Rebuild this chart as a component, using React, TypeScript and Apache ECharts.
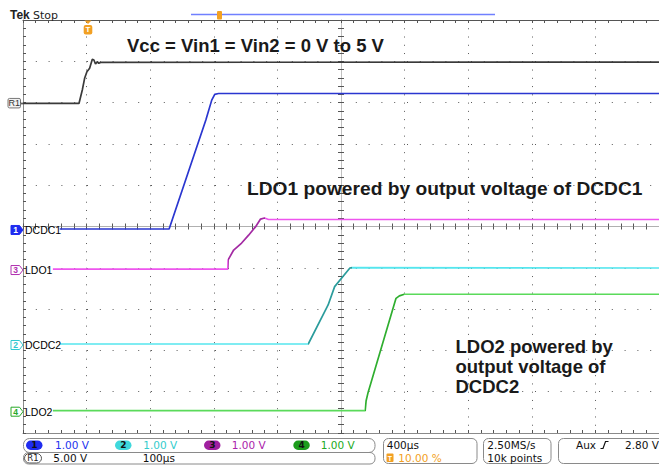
import React, { useEffect, useRef } from "react";
import * as echarts from "echarts";

const W = 659;
const H = 466;
const GRID_LEFT = 23;
const GRID_TOP = 20;
const GRID_W = 640;
const GRID_H = 413;
const X_DIVS = 10;
const Y_DIVS = 10;
const TIME_PER_DIV = 400; // µs
const TRIGGER_DIV = 1; // trigger at 10 %

// Reference R1 (Vcc), 5 V/div
const R1_T = [-400, -48, -27, -12.5, 2, 19, 36, 46, 56, 67, 77, 92, 3600];
const R1_V = [0, 0, 1.63, 3.04, 3.84, 4.25, 5.34, 5.26, 4.77, 5.05, 4.86, 4.98, 5.0];
// CH1 DCDC1, 1 V/div
const CH1_T = [-169, 519, 750, 787, 806, 830, 3600];
const CH1_V = [0, 0, 2.64, 3.12, 3.26, 3.28, 3.28];
// CH3 LDO1
const CH3_T = [-212, 888, 890, 925, 975, 1019, 1062, 1094, 1119, 1144, 3600];
const CH3_V = [0, 0, 0.22, 0.46, 0.63, 0.82, 1.02, 1.21, 1.235, 1.2, 1.2];
// CH2 DCDC2
const CH2_T = [-169, 1394, 1519, 1560, 1656, 1670, 3600];
const CH2_V = [0, 0, 0.945, 1.39, 1.84, 1.85, 1.84];
// CH4 LDO2
const CH4_T = [-212, 1752, 1758, 1769, 1946, 1967, 1998, 3600];
const CH4_V = [0, 0, 0.24, 0.42, 2.72, 2.78, 2.82, 2.82];

const CH_LABELS = ["R1", "DCDC1", "LDO1", "DCDC2", "LDO2"];
const CH_NUM = ["R1", "1", "3", "2", "4"];
const CH_OFFSETS = [2.98, -0.06, -1.03, -2.845, -4.46]; // divisions
const CH_VPD = [5, 1, 1, 1, 1];
const CH_COLORS = ["#3a3a3a", "#2a36d0", "#ee55ee", "#55e6ee", "#5ada5a"];
const CH_RAMP_COLORS = ["#3a3a3a", "#2a36d0", "#a32aa3", "#2b9c9c", "#2fae2f"];
const CH_MARK_COLORS = ["#777", "#1f2cf0", "#b030b0", "#30c8d0", "#28a828"];
const TIMES = [R1_T, CH1_T, CH3_T, CH2_T, CH4_T];
const VALUES = [R1_V, CH1_V, CH3_V, CH2_V, CH4_V];

const SCALE_TEXT = ["1.00 V", "1.00 V", "1.00 V", "1.00 V"];
const SCALE_NUMS = ["1", "2", "3", "4"];
const SCALE_COLORS = ["#1f2cf0", "#3fd8dc", "#a020a0", "#1c9c1c"];
const SCALE_TEXT_COLORS = ["#2233ee", "#33cccc", "#aa22aa", "#22aa22"];

const X_SHIFT = (X_DIVS / 2 - TRIGGER_DIV) * TIME_PER_DIV;
const X_MIN = -(X_DIVS / 2) * TIME_PER_DIV;
const X_MAX = (X_DIVS / 2) * TIME_PER_DIV;

const ORANGE = "#f2a023";
const SANS = "'Liberation Sans', Arial, sans-serif";
const UI = "'DejaVu Sans', Verdana, sans-serif";

function yPix(div: number) {
  return GRID_TOP + (Y_DIVS / 2 - div) * (GRID_H / Y_DIVS);
}

function axisBase(extra: any) {
  return {
    type: "value",
    min: X_MIN,
    max: X_MAX,
    interval: TIME_PER_DIV,
    axisLabel: { show: false },
    splitLine: { show: false },
    ...extra,
  };
}

function buildOption() {
  const series: any[] = [];
  const visualMaps: any[] = [];
  TIMES.forEach((T, i) => {
    const data = T.map((t, k) => [t - X_SHIFT, CH_OFFSETS[i] + VALUES[i][k] / CH_VPD[i]]);
    const twoTone = CH_RAMP_COLORS[i] !== CH_COLORS[i];
    series.push({
      type: "line",
      name: CH_LABELS[i],
      data,
      showSymbol: false,
      symbol: "none",
      color: CH_COLORS[i],
      lineStyle: twoTone ? { width: 1.7 } : { width: 1.7, color: CH_COLORS[i] },
      z: 10 - i,
    });
    if (twoTone) {
      const V = VALUES[i];
      let lastZero = 0;
      V.forEach((v, k) => {
        if (v === 0) lastZero = k;
      });
      let maxK = 0;
      V.forEach((v, k) => {
        if (v > V[maxK]) maxK = k;
      });
      const rs = T[lastZero] - X_SHIFT;
      const re = T[maxK] - X_SHIFT;
      visualMaps.push({
        type: "piecewise",
        show: false,
        seriesIndex: i,
        dimension: 0,
        pieces: [
          { lt: rs, color: CH_COLORS[i] },
          { gte: rs, lte: re, color: CH_RAMP_COLORS[i] },
          { gt: re, color: CH_COLORS[i] },
        ],
      });
    }
  });

  const graphics: any[] = [];
  const txt = (x: number, y: number, text: string, opts: any = {}) =>
    graphics.push({
      type: "text",
      x,
      y,
      z: 110,
      style: {
        text,
        fill: opts.fill || "#111",
        font: opts.font || `10.5px ${UI}`,
        textAlign: opts.align || "left",
        textVerticalAlign: "middle",
      },
    });

  // Header
  txt(10, 15, "Tek", { font: `bold 12px ${SANS}`, fill: "#222" });
  txt(33, 15, "Stop", { font: `11px ${UI}`, fill: "#222" });
  graphics.push({
    type: "line",
    z: 100,
    shape: { x1: 191, y1: 14.5, x2: 495, y2: 14.5 },
    style: { stroke: "#7080ff", lineWidth: 1.5 },
  });
  graphics.push({
    type: "rect",
    z: 101,
    shape: { x: 217, y: 11, width: 5, height: 8.5, r: 1 },
    style: { fill: ORANGE },
  });
  // trigger marker
  const trigX = GRID_LEFT + TRIGGER_DIV * (GRID_W / X_DIVS) + 1;
  graphics.push({
    type: "polygon",
    z: 100,
    shape: { points: [[trigX - 3.5, 20.5], [trigX + 3.5, 20.5], [trigX, 24]] },
    style: { fill: ORANGE },
  });
  graphics.push({
    type: "rect",
    z: 100,
    shape: { x: trigX - 4.3, y: 25, width: 8.6, height: 9.5, r: 2 },
    style: { fill: ORANGE },
  });
  txt(trigX, 29.8, "T", { font: `bold 8px ${SANS}`, fill: "#fff", align: "center" });

  // Annotations
  txt(127, 45, "Vcc = Vin1 = Vin2 = 0 V to 5 V", { font: `bold 18.5px ${SANS}`, fill: "#1a1a1a" });
  txt(247, 188.5, "LDO1 powered by output voltage of DCDC1", { font: `bold 19.2px ${SANS}`, fill: "#1a1a1a" });
  ["LDO2 powered by", "output voltage of", "DCDC2"].forEach((s, k) =>
    txt(455.5, 346 + k * 20.4, s, { font: `bold 18.5px ${SANS}`, fill: "#1a1a1a" })
  );

  // Channel markers
  CH_LABELS.forEach((lab, i) => {
    const y = yPix(CH_OFFSETS[i]) + (i === 0 ? 0 : 1);
    if (i === 0) {
      graphics.push({
        type: "rect",
        z: 100,
        shape: { x: 8, y: y - 5, width: 12.5, height: 9.5, r: 1.5 },
        style: { fill: "#f2f2f2", stroke: "#777", lineWidth: 1 },
      });
      txt(14.2, y, "R1", { font: `9px ${SANS}`, fill: "#333", align: "center" });
      graphics.push({
        type: "polyline",
        z: 100,
        shape: { points: [[20.5, y - 1.5], [22, y + 1], [23.5, y - 1.5]] },
        style: { stroke: "#555", lineWidth: 1, fill: null },
      });
      return;
    }
    const color = CH_MARK_COLORS[i];
    const filled = i === 1;
    graphics.push({
      type: "polygon",
      z: 100,
      shape: { points: [[11, y - 4.5], [19.5, y - 4.5], [23, y], [19.5, y + 4.5], [11, y + 4.5]] },
      style: { fill: filled ? color : "#fff", stroke: color, lineWidth: 1 },
    });
    txt(15.5, y + 0.3, CH_NUM[i], { font: `bold 8.5px ${SANS}`, fill: filled ? "#fff" : color, align: "center" });
    txt(25, y, lab, { font: `10.5px ${SANS}`, fill: "#000" });
  });

  // Bottom panel boxes
  const box = (x: number, y: number, w: number, h: number, r: number) =>
    graphics.push({
      type: "rect",
      z: 100,
      shape: { x, y, width: w, height: h, r },
      style: { fill: "#fff", stroke: "#8a8a8a", lineWidth: 1 },
    });
  box(23.5, 438.5, 351.5, 14, 6);
  box(23.5, 452.5, 351.5, 11.5, 5);
  box(383.5, 438.5, 93.5, 25, 5);
  box(483.5, 438.5, 67.5, 25, 5);
  box(558.5, 438.5, 110, 25, 5);

  const pillX = [26, 115, 204, 293.3];
  const textX = [55, 143.3, 231.7, 320.7];
  SCALE_NUMS.forEach((n, k) => {
    graphics.push({
      type: "rect",
      z: 101,
      shape: { x: pillX[k], y: 440.5, width: 16.5, height: 9.5, r: 4.75 },
      style: { fill: SCALE_COLORS[k] },
    });
    txt(pillX[k] + 8.25, 445.3, n, { font: `bold 9px ${UI}`, fill: "#111", align: "center" });
    txt(textX[k], 445.3, SCALE_TEXT[k], { fill: SCALE_TEXT_COLORS[k] });
  });
  graphics.push({
    type: "rect",
    z: 101,
    shape: { x: 24.5, y: 453.5, width: 17, height: 9.5, r: 4.75 },
    style: { fill: "#fff", stroke: "#555", lineWidth: 1 },
  });
  txt(33, 458.3, "R1", { font: `8.5px ${UI}`, fill: "#222", align: "center" });
  txt(53.3, 458.3, "5.00 V");
  txt(142.7, 458.3, "100µs");

  txt(386.7, 444.8, "400µs");
  graphics.push({
    type: "rect",
    z: 101,
    shape: { x: 386.5, y: 453.5, width: 7, height: 8.5, r: 1 },
    style: { fill: ORANGE },
  });
  txt(390, 458, "T", { font: `bold 7px ${SANS}`, fill: "#fff", align: "center" });
  txt(398.3, 458.3, "10.00 %", { fill: ORANGE });

  txt(487.3, 444.8, "2.50MS/s");
  txt(487.3, 458.3, "10k points");

  txt(576, 444.8, "Aux");
  graphics.push({
    type: "polyline",
    z: 101,
    shape: { points: [[600.5, 448.5], [603, 448.5], [605.5, 441.5], [608.5, 441.5]] },
    style: { stroke: "#111", lineWidth: 1.2, fill: null },
  });
  txt(625, 444.8, "2.80 V");

  const tickStyle = { color: "#555", width: 1 };
  const dotColor = "#5a5a5a";
  const minorX = 5;
  const minorY = 5;

  return {
    animation: false,
    backgroundColor: "#fff",
    grid: {
      left: GRID_LEFT,
      top: GRID_TOP,
      width: GRID_W,
      height: GRID_H,
      containLabel: false,
    },
    xAxis: [
      axisBase({
        position: "bottom",
        axisLine: { onZero: false, lineStyle: { color: "#8a8a8a", width: 1 } },
        axisTick: { show: true, inside: true, length: 3, lineStyle: tickStyle },
        minorTick: { show: true, splitNumber: minorX, length: 3, lineStyle: tickStyle },
        splitLine: {
          show: true,
          lineStyle: { color: dotColor, width: 1, type: [1, GRID_H / Y_DIVS / minorY - 1] },
        },
      }),
      axisBase({
        position: "top",
        axisLine: { onZero: false, lineStyle: { color: "#555", width: 1 } },
        axisTick: { show: true, inside: true, length: 3, lineStyle: tickStyle },
        minorTick: { show: true, splitNumber: minorX, length: 3, lineStyle: tickStyle },
      }),
      axisBase({
        position: "bottom",
        axisLine: { onZero: true, onZeroAxisIndex: 0, lineStyle: { color: "#b0b0b0", width: 1 } },
        axisTick: { show: true, inside: true, length: 3, lineStyle: tickStyle },
        minorTick: { show: true, splitNumber: minorX, length: 3, lineStyle: tickStyle },
      }),
      axisBase({
        position: "top",
        axisLine: { onZero: true, onZeroAxisIndex: 0, lineStyle: { color: "#b0b0b0", width: 1 } },
        axisTick: { show: true, inside: true, length: 3, lineStyle: tickStyle },
        minorTick: { show: true, splitNumber: minorX, length: 3, lineStyle: tickStyle },
      }),
    ],
    yAxis: [
      {
        type: "value",
        min: -Y_DIVS / 2,
        max: Y_DIVS / 2,
        interval: 1,
        position: "left",
        axisLabel: { show: false },
        axisLine: { show: true, onZero: false, lineStyle: { color: "#8a8a8a", width: 1 } },
        axisTick: { show: true, inside: true, length: 3, lineStyle: tickStyle },
        minorTick: { show: true, splitNumber: minorY, length: 3, lineStyle: tickStyle },
        splitLine: {
          show: true,
          lineStyle: { color: dotColor, width: 1, type: [1, GRID_W / X_DIVS / minorX - 1] },
        },
      },
      {
        type: "value",
        min: -Y_DIVS / 2,
        max: Y_DIVS / 2,
        interval: 1,
        position: "left",
        axisLabel: { show: false },
        splitLine: { show: false },
        axisLine: { show: true, onZero: true, onZeroAxisIndex: 0, lineStyle: { color: "#c0c0c0", width: 1 } },
        axisTick: { show: true, inside: true, length: 3, lineStyle: tickStyle },
        minorTick: { show: true, splitNumber: minorY, length: 3, lineStyle: tickStyle },
      },
      {
        type: "value",
        min: -Y_DIVS / 2,
        max: Y_DIVS / 2,
        interval: 1,
        position: "right",
        axisLabel: { show: false },
        splitLine: { show: false },
        axisLine: { show: true, onZero: true, onZeroAxisIndex: 0, lineStyle: { color: "#c0c0c0", width: 1 } },
        axisTick: { show: true, inside: true, length: 3, lineStyle: tickStyle },
        minorTick: { show: true, splitNumber: minorY, length: 3, lineStyle: tickStyle },
      },
    ],
    visualMap: visualMaps,
    series,
    graphic: { elements: graphics },
  };
}

export default function App() {
  const ref = useRef<HTMLDivElement>(null);
  useEffect(() => {
    const chart = echarts.init(ref.current!, undefined, { renderer: "svg" });
    chart.setOption(buildOption() as any);
    return () => chart.dispose();
  }, []);
  return (
    <div
      ref={ref}
      style={{ position: "fixed", left: 0, top: 0, width: W, height: H, background: "#fff" }}
    />
  );
}
